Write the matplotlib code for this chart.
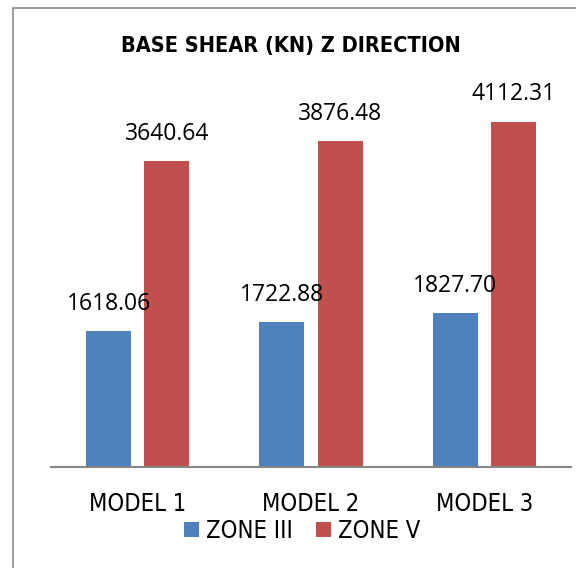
import matplotlib
matplotlib.use("Agg")
import matplotlib.pyplot as plt
import numpy as np
from matplotlib.patches import Rectangle

categories = ["MODEL 1", "MODEL 2", "MODEL 3"]
zone_iii = [1618.06, 1722.88, 1827.70]
zone_v = [3640.64, 3876.48, 4112.31]
series_names = ["ZONE III", "ZONE V"]

BLUE = "#4F81BD"
RED = "#C0504D"
NARROW = ["DejaVu Sans"]   # used with stretch="condensed" -> DejaVu Sans Condensed
PLAIN = ["Open Sans", "DejaVu Sans"]

fig = plt.figure(figsize=(5.76, 5.68), dpi=100)
ax = fig.add_axes([51 / 576, 101 / 568, 520 / 576, 378 / 568])

x = np.arange(len(categories))
w = 0.26
off = 0.1675
b1 = ax.bar(x - off, zone_iii, w, color=BLUE, label=series_names[0])
b2 = ax.bar(x + off, zone_v, w, color=RED, label=series_names[1])

for bars, vals in ((b1, zone_iii), (b2, zone_v)):
    for r, v in zip(bars, vals):
        ax.annotate(f"{v:.2f}", (r.get_x() + r.get_width() / 2, v),
                    xytext=(0, 11), textcoords="offset points",
                    ha="center", va="bottom", fontsize=16.5, family=PLAIN)

ax.set_xlim(-0.5, 2.5)
ax.set_ylim(0, 4500)
ax.set_yticks([])
ax.set_xticks(x)
ax.set_xticklabels(categories, fontsize=17, family=NARROW, stretch="condensed")
ax.tick_params(axis="x", length=0, pad=18)
for s in ("top", "right", "left"):
    ax.spines[s].set_visible(False)
ax.spines["bottom"].set_color("#868686")
ax.spines["bottom"].set_linewidth(1.5)

fig.text(291 / 576, 1 - 46 / 568, "BASE SHEAR (KN) Z DIRECTION", ha="center",
         va="center", fontsize=15.6, fontweight="bold", family=NARROW,
         stretch="condensed")

fig.legend(handles=[b1, b2], loc="center", bbox_to_anchor=(302 / 576, 1 - 531 / 568),
           ncol=2, frameon=False, handlelength=0.63, handleheight=0.63,
           handletextpad=0.3, columnspacing=1.0,
           prop={"family": NARROW, "size": 17, "stretch": "condensed"})

# outer chart border (cut off at right and bottom like the source)
fig.patches.append(Rectangle((13 / 576, -0.05), 1.0, 1 - 8 / 568 + 0.05,
                             transform=fig.transFigure, fill=False,
                             edgecolor="#8c8c8c", linewidth=1.2))

fig.savefig("out.png", dpi=100)
